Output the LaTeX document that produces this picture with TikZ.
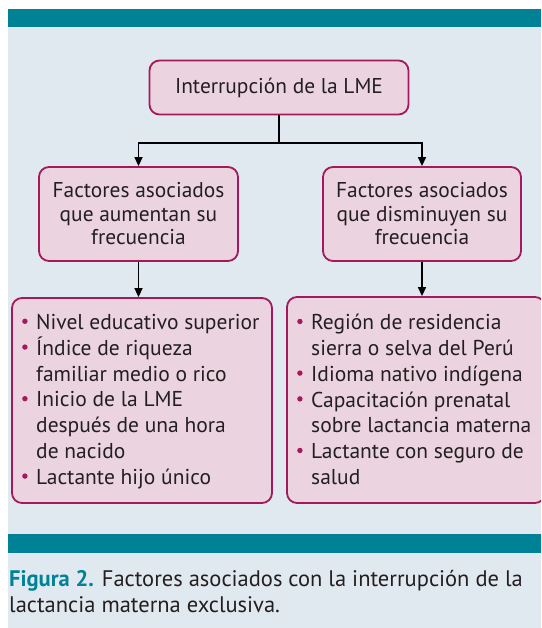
\documentclass[tikz,border=0pt]{standalone}
\usepackage{fontspec}
\setmainfont{PT Sans}
\usetikzlibrary{arrows.meta}
\definecolor{teal}{HTML}{008296}
\definecolor{bgc}{HTML}{E1E9F0}
\definecolor{pinkf}{HTML}{EBD4DF}
\definecolor{mag}{HTML}{A3195B}
\definecolor{txt}{HTML}{231F20}
\newcommand\bl{\makebox[14pt][l]{\raisebox{5.5pt}{\textcolor{mag}{\rule{0pt}{0pt}\smash{\tikz\fill[mag] (0,0) circle (2.7pt);}}}}}
\newcommand\ind{\hspace*{14pt}}
\tikzset{
  box/.style={draw=mag, fill=pinkf, line width=1.8pt, rounded corners=10pt, inner sep=0pt},
  lbl/.style={text=txt, font=\fontsize{21.4}{23.5}\selectfont, align=center, inner sep=0pt},
  list/.style={text=txt, font=\fontsize{21.5}{25.8}\selectfont, align=left, inner sep=0pt, anchor=north west},
  conn/.style={line width=1.5pt, draw=black},
  arr/.style={conn, -{Triangle[length=9pt,width=8pt]}}
}
\begin{document}
\begin{tikzpicture}[x=1pt,y=-1pt]
\useasboundingbox (0,0) rectangle (541,628);
\clip (0,0) rectangle (541,628);
\fill[bgc] (8,9) rectangle (541,628);
\fill[teal] (8,9) rectangle (541,27);
\fill[teal] (8,534) rectangle (541,553);
% boxes
\node[box, minimum width=259pt, minimum height=54pt, lbl] (top) at (279,87.5) {Interrupción de la LME};
\node[box, minimum width=199pt, minimum height=94pt, lbl] (ml) at (138.5,214) {Factores asociados\\que aumentan su\\frecuencia};
\node[box, minimum width=198pt, minimum height=94pt, lbl] (mr) at (422,214) {Factores asociados\\que disminuyen su\\frecuencia};
\node[box, minimum width=260pt, minimum height=205pt] (bl) at (142,400.5) {};
\node[box, minimum width=258pt, minimum height=206pt] (br) at (416,400) {};
% list texts
\node[list] (tl) at (22,314) {\bl Nivel educativo superior\\
\bl Índice de riqueza\\
\ind familiar medio o rico\\
\bl Inicio de la LME\\
\ind después de una hora\\
\ind de nacido\\
\bl Lactante hijo único};
\node[list] (tr) at (297,314) {\bl Región de residencia\\
\ind sierra o selva del Perú\\
\bl Idioma nativo indígena\\
\bl Capacitación prenatal\\
\ind sobre lactancia materna\\
\bl Lactante con seguro de\\
\ind salud};
% connectors
\coordinate (j) at (top.south |- 0,143);
\draw[conn] (top.south) -- (j);
\draw[arr] (j) -| (ml.north);
\draw[arr] (j) -| (mr.north);
\draw[arr] (ml.south) -- (bl.north -| ml.south);
\draw[arr] (mr.south) -- (br.north -| mr.south);
% caption
\node[text=txt, font=\fontsize{22.5}{26}\selectfont, align=left, anchor=north west, inner sep=0pt] (cap) at (9,570) {\textbf{\textcolor{teal}{Figura 2.}} Factores asociados con la interrupción de la\\lactancia materna exclusiva.};
\end{tikzpicture}
\end{document}
